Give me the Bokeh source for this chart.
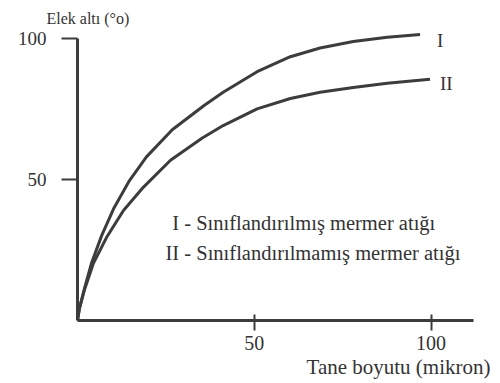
from bokeh.plotting import figure
from bokeh.models import Range1d, Label, FixedTicker, Title
from bokeh.embed import file_html
from bokeh.resources import INLINE

# Data
size_I = [0, 0.5, 2.0, 4.0, 6.8, 10.2, 14.7, 19.5, 26.8, 35.9, 41.2, 50.8, 60.2, 68.6, 78.0, 87.6, 96.9]
pass_I = [0, 4.0, 11.5, 20.5, 30.0, 39.6, 49.6, 58.0, 67.6, 76.3, 80.9, 88.2, 93.5, 96.6, 98.9, 100.4, 101.4]
size_II = [0, 0.5, 2.0, 4.5, 8.2, 13.0, 18.6, 26.3, 35.3, 41.2, 50.8, 60.2, 68.6, 78.0, 87.6, 99.7]
pass_II = [0, 4.0, 11.0, 20.3, 29.4, 39.0, 47.2, 56.8, 64.7, 69.1, 75.0, 78.7, 80.9, 82.6, 84.1, 85.5]
x_ticks = [50, 100]
y_ticks = [50, 100]
y_title = "Elek altı (°o)"
x_title = "Tane boyutu (mikron)"
legend_I = "I - Sınıflandırılmış mermer atığı"
legend_II = "II - Sınıflandırılmamış mermer atığı"

FONT = "Liberation Serif"
INK = "#3c3c3c"
TXT = "#333333"

p = figure(width=496, height=380,
           min_border_left=77, min_border_right=23,
           min_border_top=30, min_border_bottom=60,
           x_range=Range1d(0, 112), y_range=Range1d(0, 102.8),
           output_backend="svg", toolbar_location=None)
p.outline_line_color = None
p.grid.visible = False
p.background_fill_color = "white"
p.border_fill_color = "white"

p.line(size_I, pass_I, line_color=INK, line_width=3, line_join="round")
p.line(size_II, pass_II, line_color=INK, line_width=3, line_join="round")

xa = p.xaxis[0]
xa.ticker = FixedTicker(ticks=x_ticks)
xa.bounds = (0, 112)
xa.axis_line_width = 3
xa.axis_line_color = INK
xa.major_tick_line_width = 2
xa.major_tick_line_color = INK
xa.major_tick_in = 6
xa.major_tick_out = 10
xa.minor_tick_line_color = None
xa.major_label_standoff = 5
xa.major_label_text_font = FONT
xa.major_label_text_font_size = "20px"
xa.major_label_text_color = TXT

ya = p.yaxis[0]
ya.ticker = FixedTicker(ticks=y_ticks)
ya.bounds = (0, 100)
ya.axis_line_width = 3
ya.axis_line_color = INK
ya.major_tick_line_width = 2
ya.major_tick_line_color = INK
ya.major_tick_in = 0
ya.major_tick_out = 16
ya.minor_tick_line_color = None
ya.major_label_standoff = 15
ya.major_label_text_font = FONT
ya.major_label_text_font_size = "19px"
ya.major_label_text_color = TXT

p.add_layout(Title(text=y_title, align="left", offset=-31, standoff=7,
                   text_font=FONT, text_font_size="16px",
                   text_font_style="normal", text_color=TXT), "above")
p.add_layout(Title(text=x_title, align="right", offset=-17, standoff=0,
                   text_font=FONT, text_font_size="21px",
                   text_font_style="normal", text_color=TXT), "below")

def lab(x, y, t, size="20.5px"):
    p.add_layout(Label(x=x, y=y, text=t, text_font=FONT, text_font_size=size,
                       text_color=TXT, text_align="left",
                       text_baseline="middle"))

lab(26.8, 34.5, legend_I)
lab(24.9, 24.0, legend_II)
lab(101.7, 99.3, "I", "19px")
lab(102.5, 84.0, "II", "19px")

open("out.html", "w").write(file_html(p, INLINE))
